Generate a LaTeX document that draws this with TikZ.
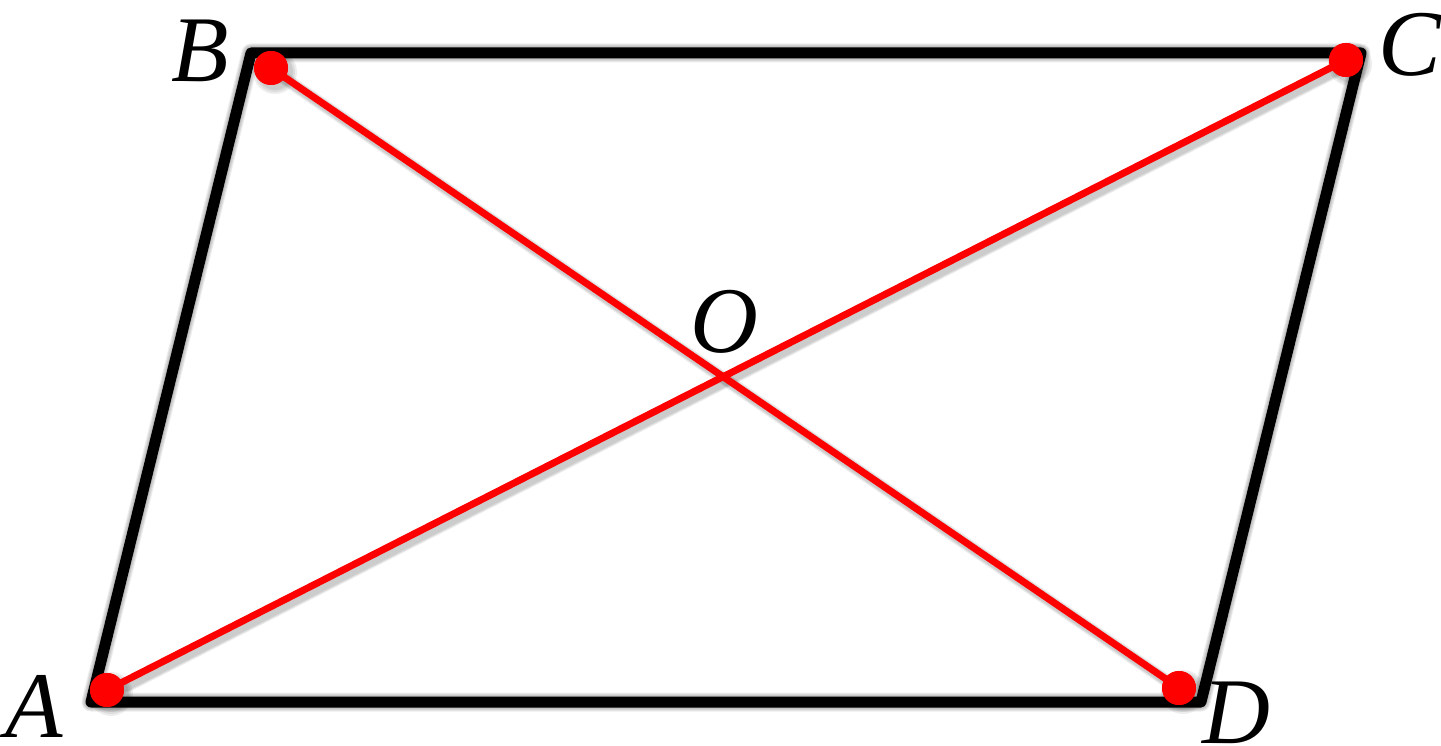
\documentclass[tikz,border=0pt]{standalone}
\usepackage{fontspec}
\setmainfont{Liberation Serif}
\tikzset{
  frame/.style={line width=11pt, line join=round, line cap=round, draw=black},
  diag/.style={line width=7pt, draw=red},
  dot/.style={circle, fill=red, minimum size=34pt, inner sep=0pt},
  lbl/.style={font=\fontsize{94}{94}\selectfont\itshape, inner sep=0pt, anchor=base},
  softshade/.style={draw=black, draw opacity=0.07, line join=round, line cap=round, shift={(4,4)}}
}
\begin{document}
\begin{tikzpicture}[x=1pt,y=-1pt]
  \useasboundingbox (0,0) rectangle (1441,746);
  % parallelogram corners
  \coordinate (pA) at (91,702);
  \coordinate (pB) at (251,53);
  \coordinate (pC) at (1361,53);
  \coordinate (pD) at (1201,702);
  % soft shadow of frame and diagonals
  \foreach \w in {13,15,17,19}{
    \draw[softshade, line width=\w pt] (pA) -- (pB) -- (pC) -- (pD) -- cycle;
  }
  \foreach \w in {9,11,13}{
    \draw[softshade, line width=\w pt] (107,690) -- (1346,60);
    \draw[softshade, line width=\w pt] (271,68) -- (1179,688);
  }
  \foreach \r in {18,20,22}{
    \fill[black, fill opacity=0.07] (111,694) circle (\r);
    \fill[black, fill opacity=0.07] (275,72) circle (\r);
    \fill[black, fill opacity=0.07] (1350,64) circle (\r);
    \fill[black, fill opacity=0.07] (1183,692) circle (\r);
  }
  % frame
  \draw[frame] (pA) -- (pB) -- (pC) -- (pD) -- cycle;
  % dots
  \node[dot] (A) at (107,690) {};
  \node[dot] (B) at (271,68) {};
  \node[dot] (C) at (1346,60) {};
  \node[dot] (D) at (1179,688) {};
  % diagonals
  \draw[diag] (A.center) -- (C.center);
  \draw[diag] (B.center) -- (D.center);
  \node[dot] at (A.center) {};
  \node[dot] at (B.center) {};
  \node[dot] at (C.center) {};
  \node[dot] at (D.center) {};
  % labels
  \node[lbl] (lA) at (34,737) {A};
  \node[lbl] (lB) at (200,82) {B};
  \node[lbl] (lC) at (1410,76) {C};
  \node[lbl] (lD) at (1236,743) {D};
  \node[lbl] (lO) at (724,352) {O};
\end{tikzpicture}
\end{document}
